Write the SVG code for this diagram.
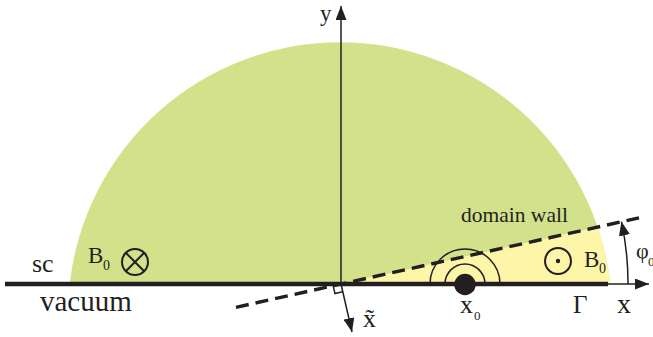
<svg xmlns="http://www.w3.org/2000/svg" width="653" height="337" viewBox="0 0 653 337">
<style>
text{font-family:"Liberation Serif","Times New Roman",serif;fill:#231f20}
.thin{stroke:#231f20;stroke-width:1.5;fill:none}
.sym{stroke:#231f20;stroke-width:2;fill:none}
</style>
<defs>
<marker id="ah" viewBox="0 0 14 11" refX="14" refY="5.5" markerWidth="14" markerHeight="11" orient="auto" markerUnits="userSpaceOnUse">
<path d="M0,0 L14,5.5 L0,11 Z" fill="#231f20"/>
</marker>
</defs>
<g id="regions">
<path d="M69.7,284 A272,272 0 0 1 610.3,284 Z" fill="#d3e18b"/>
<path d="M341,284 L610.3,284 A272,272 0 0 0 597.8,227.1 Z" fill="#fdf5a8"/>
</g>
<g id="connectors">
<line x1="5" y1="284" x2="608" y2="284" stroke="#231f20" stroke-width="4.5"/>
<line class="thin" x1="606" y1="284" x2="649" y2="284" marker-end="url(#ah)"/>
<line class="thin" x1="341" y1="284" x2="341" y2="6" marker-end="url(#ah)"/>
<line x1="236" y1="307.3" x2="639" y2="217.9" stroke="#231f20" stroke-width="3.4" stroke-dasharray="13 7"/>
<line class="thin" x1="341" y1="284" x2="352" y2="332" marker-end="url(#ah)"/>
<path class="thin" d="M333.2,285.7 L334.9,293.5 L342.7,291.8"/>
<path class="thin" d="M628,284 A287,287 0 0 0 621.4,221.6" marker-end="url(#ah)"/>
</g>
<g id="source-x0">
<path class="thin" d="M445,284 A20,20 0 0 1 485,284"/>
<path class="thin" d="M430,284 A35,35 0 0 1 500,284"/>
<circle cx="465" cy="284.5" r="10.7" fill="#231f20"/>
</g>
<g id="field-in">
<circle class="sym" cx="135" cy="262" r="13"/>
<line class="sym" x1="125.8" y1="252.8" x2="144.2" y2="271.2"/>
<line class="sym" x1="144.2" y1="252.8" x2="125.8" y2="271.2"/>
</g>
<g id="field-out">
<circle class="sym" cx="558" cy="261" r="13"/>
<circle cx="558" cy="261" r="2.2" fill="#231f20"/>
</g>
<g id="labels">
<text x="320" y="21" font-size="23">y</text>
<text x="32" y="272" font-size="26">sc</text>
<text x="40" y="311" font-size="29">vacuum</text>
<text x="88" y="263" font-size="23">B</text>
<text x="103" y="270" font-size="14">0</text>
<text x="584" y="267" font-size="23">B</text>
<text x="599" y="273" font-size="14">0</text>
<text x="461" y="222" font-size="21.5">domain wall</text>
<text x="636" y="258" font-size="22">φ</text>
<text x="648" y="266" font-size="13">0</text>
<text x="617" y="313" font-size="28">x</text>
<text x="573" y="313" font-size="25">Γ</text>
<text x="460" y="313" font-size="26">x</text>
<text x="474" y="320" font-size="13">0</text>
<text x="363" y="327" font-size="26">x̃</text>
</g>
</svg>
